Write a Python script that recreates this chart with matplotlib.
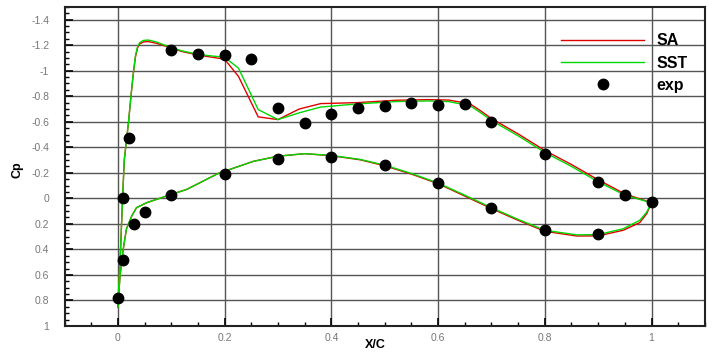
import matplotlib
matplotlib.use("Agg")
import matplotlib.pyplot as plt
from matplotlib.ticker import MultipleLocator

plt.rcParams['font.family'] = ['Liberation Sans', 'DejaVu Sans']

# upper surface, stagnation point -> trailing edge
x_up = [0.0, 0.002, 0.005, 0.009, 0.012, 0.016, 0.020, 0.025, 0.029, 0.033, 0.037,
        0.041, 0.048, 0.057, 0.072, 0.091, 0.12, 0.154, 0.2, 0.226, 0.263, 0.3,
        0.34, 0.38, 0.45, 0.52, 0.58, 0.62, 0.66, 0.68, 0.70, 0.75, 0.80, 0.85,
        0.90, 0.95, 1.0]
cp_up_sst = [0.85, 0.66, 0.40, -0.02, -0.30, -0.45, -0.60, -0.82, -0.98, -1.12, -1.19,
             -1.22, -1.237, -1.24, -1.225, -1.195, -1.155, -1.125, -1.105, -1.02, -0.695, -0.617,
             -0.67, -0.715, -0.74, -0.758, -0.763, -0.758, -0.725, -0.67, -0.61, -0.49, -0.36, -0.25,
             -0.13, -0.025, 0.035]
cp_up_sa = [0.85, 0.66, 0.40, -0.02, -0.30, -0.45, -0.60, -0.82, -0.98, -1.11, -1.18,
            -1.21, -1.225, -1.228, -1.215, -1.19, -1.15, -1.12, -1.09, -0.955, -0.638, -0.617,
            -0.70, -0.742, -0.75, -0.768, -0.773, -0.77, -0.74, -0.685, -0.625, -0.505, -0.375, -0.265,
            -0.145, -0.035, 0.035]

# lower surface, stagnation point -> trailing edge
x_lo = [0.0, 0.004, 0.01, 0.016, 0.026, 0.035, 0.054, 0.091, 0.129, 0.188, 0.254,
        0.30, 0.35, 0.40, 0.454, 0.50, 0.55, 0.60, 0.65, 0.70, 0.75, 0.80, 0.86,
        0.90, 0.947, 0.978, 0.991, 1.0]
cp_lo_sst = [0.85, 0.607, 0.40, 0.24, 0.138, 0.073, 0.034, -0.018, -0.07, -0.195, -0.29,
             -0.33, -0.35, -0.336, -0.305, -0.26, -0.195, -0.12, -0.025, 0.073, 0.165, 0.25, 0.286,
             0.284, 0.238, 0.172, 0.108, 0.034]
cp_lo_sa = [0.85, 0.607, 0.40, 0.24, 0.138, 0.073, 0.034, -0.018, -0.07, -0.195, -0.29,
            -0.33, -0.35, -0.334, -0.302, -0.255, -0.19, -0.115, -0.018, 0.08, 0.172, 0.258, 0.295,
            0.294, 0.25, 0.19, 0.12, 0.034]

# experiment
x_exp_up = [0.01, 0.02, 0.1, 0.15, 0.2, 0.25, 0.3, 0.35, 0.4, 0.45, 0.5, 0.55, 0.6,
            0.65, 0.7, 0.8, 0.9, 0.95, 1.0]
cp_exp_up = [0.0, -0.47, -1.16, -1.13, -1.12, -1.09, -0.71, -0.59, -0.66, -0.71, -0.72,
             -0.75, -0.73, -0.74, -0.60, -0.35, -0.13, -0.03, 0.03]
x_exp_lo = [0.0, 0.01, 0.03, 0.05, 0.1, 0.2, 0.3, 0.4, 0.5, 0.6, 0.7, 0.8, 0.9]
cp_exp_lo = [0.78, 0.48, 0.2, 0.105, -0.025, -0.19, -0.31, -0.325, -0.26, -0.12, 0.075,
             0.25, 0.28]

fig = plt.figure(figsize=(7.2, 3.6), dpi=100)
ax = fig.add_axes([0.0896, 0.0944, 0.8894, 0.8866])

red = '#e00000'
green = '#00d800'
ax.plot(x_up, cp_up_sa, color=red, lw=1.0, label='SA', zorder=3)
ax.plot(x_lo, cp_lo_sa, color=red, lw=1.0, zorder=3)
ax.plot(x_up, cp_up_sst, color=green, lw=1.0, label='SST', zorder=4)
ax.plot(x_lo, cp_lo_sst, color=green, lw=1.0, zorder=4)
ax.plot(x_exp_up + x_exp_lo, cp_exp_up + cp_exp_lo, 'o', color='black', ms=7.5,
        ls='none', label='exp', zorder=5)

ax.set_xlim(-0.1, 1.1)
ax.set_ylim(1.0, -1.5)
ax.xaxis.set_major_locator(MultipleLocator(0.2))
ax.xaxis.set_minor_locator(MultipleLocator(0.05))
ax.yaxis.set_major_locator(MultipleLocator(0.2))
ax.yaxis.set_minor_locator(MultipleLocator(0.05))
ax.set_xticks([0, 0.2, 0.4, 0.6, 0.8, 1.0])
ax.set_xticklabels(['0', '0.2', '0.4', '0.6', '0.8', '1'])
yt = [1, 0.8, 0.6, 0.4, 0.2, 0, -0.2, -0.4, -0.6, -0.8, -1, -1.2, -1.4]
ax.set_yticks(yt)
ax.set_yticklabels(['1', '0.8', '0.6', '0.4', '0.2', '0', '-0.2', '-0.4', '-0.6',
                    '-0.8', '-1', '-1.2', '-1.4'])
ax.tick_params(which='both', direction='in', labelsize=7.5, labelcolor='#777777',
               color='black')
ax.tick_params(which='major', length=6, width=1.2)
ax.tick_params(which='minor', length=3, width=1)
ax.tick_params(axis='y', pad=11)
ax.tick_params(axis='x', pad=5)
ax.grid(True, which='major', color='#555555', lw=1)
for s in ax.spines.values():
    s.set_linewidth(1.5)
    s.set_color('#222222')

fig.text(0.521, 0.042, 'X/C', fontsize=9, fontweight='bold', ha='center', va='center')
fig.text(0.025, 0.528, 'Cp', fontsize=9, fontweight='bold', ha='center', va='center',
         rotation=90)

leg = ax.legend(loc='upper right', bbox_to_anchor=(0.996, 0.962), frameon=False,
                handlelength=5.2, handletextpad=0.8, labelspacing=0.45,
                prop={'size': 11.5, 'weight': 'bold'})

fig.savefig('out.png', dpi=100)
